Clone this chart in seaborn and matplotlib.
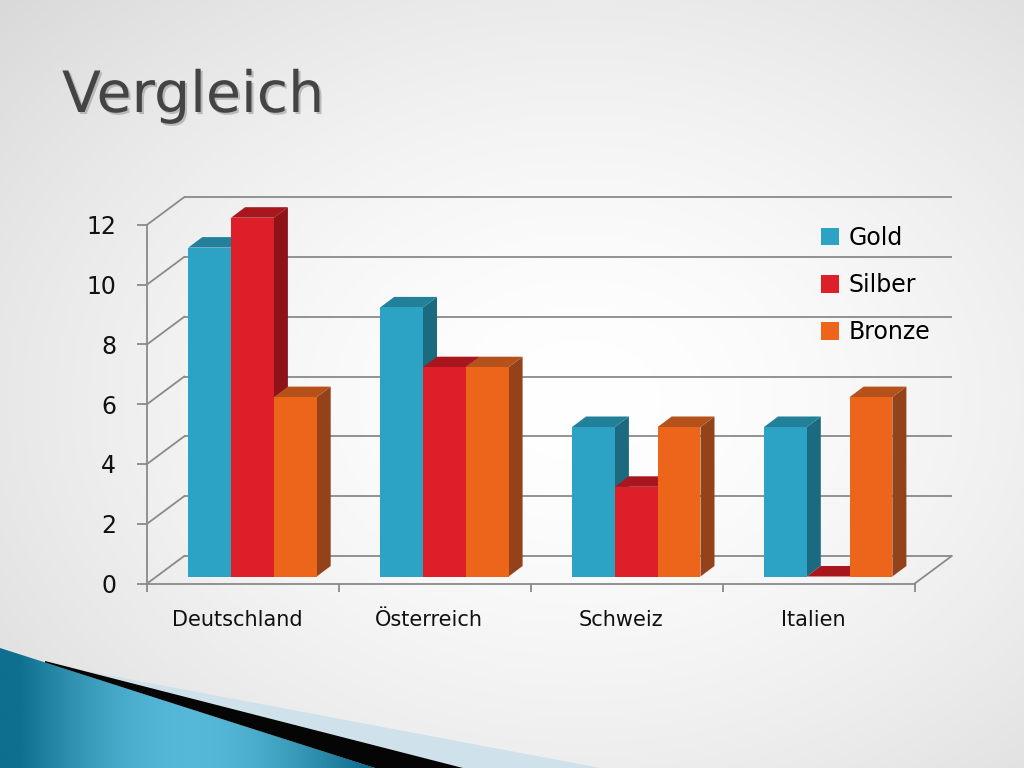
import numpy as np
import pandas as pd
import matplotlib
matplotlib.use("Agg")
import matplotlib.pyplot as plt
import matplotlib.patheffects as pe
from matplotlib.patches import Polygon, Patch
from matplotlib.colors import to_rgba
import seaborn as sns

# ---------------- data ----------------
countries = ["Deutschland", "Österreich", "Schweiz", "Italien"]
medals = ["Gold", "Silber", "Bronze"]
gold = [11, 9, 5, 5]
silber = [12, 7, 3, 0]
bronze = [6, 7, 5, 6]
y_ticks = [0, 2, 4, 6, 8, 10, 12]
title = "Vergleich"

front_colors = ["#2ca3c4", "#dd1f29", "#ec651b"]
top_colors = ["#23809a", "#a8171e", "#b5521b"]
side_colors = ["#1c6a80", "#8d1319", "#94421a"]

df = pd.DataFrame({
    "Land": countries * 3,
    "Medaille": [medals[0]] * 4 + [medals[1]] * 4 + [medals[2]] * 4,
    "Anzahl": gold + silber + bronze,
})

# ---------------- figure ----------------
fig = plt.figure(figsize=(10.24, 7.68), dpi=100)

# background gradient + decoration
bg = fig.add_axes([0, 0, 1, 1], zorder=-5)
bg.set_xlim(0, 1024)
bg.set_ylim(768, 0)
bg.axis("off")
yy, xx = np.mgrid[0:768, 0:1024]
d = np.sqrt(((xx - 580) / 720.0) ** 2 + ((yy - 400) / 540.0) ** 2)
v = 1.0 - 0.13 * np.clip(d, 0, 1.3) ** 1.6
img = np.dstack([v, v, v])
bg.imshow(img, extent=(0, 1024, 768, 0), aspect="auto", zorder=0)

teal = Polygon([(0, 648), (375, 768), (0, 768)], closed=True, facecolor="none", edgecolor="none")
bg.add_patch(teal)
t = np.linspace(0, 1, 400)
grad = np.outer(np.ones(120), t)
tg = np.abs(np.sin(np.pi * np.clip((grad - 0.05) * 1.1, 0, 1)))
cmap_teal = matplotlib.colors.LinearSegmentedColormap.from_list("t", ["#0f6f8f", "#56b8d8"])
im = bg.imshow(tg, extent=(0, 380, 768, 645), aspect="auto", cmap=cmap_teal, zorder=2)
im.set_clip_path(teal)
bg.add_patch(Polygon([(70, 668), (600, 768), (463, 768), (55, 663)], closed=True,
                     facecolor="#cfe1eb", edgecolor="none", zorder=1.5))
bg.add_patch(Polygon([(45, 661), (463, 768), (375, 768), (45, 662.5)], closed=True,
                     facecolor="#050505", edgecolor="none", zorder=3))

fig.text(62 / 1024, (768 - 112) / 768, title, fontsize=41, color="#444444",
         family="DejaVu Sans", va="baseline", ha="left",
         path_effects=[pe.SimplePatchShadow(offset=(1.5, -1.5), shadow_rgbFace="#9a9a9a", alpha=0.6),
                       pe.Normal()])

# main axes: 1 x-unit = 191.9 px, 1 y-unit = 29.9 px, bar centre of cat 0 at px 252.5, y=0 at px 576.5
ax = fig.add_axes([100 / 1024, (768 - 650) / 768, 900 / 1024, 500 / 768])
ax.set_facecolor("none")

sns.barplot(data=df, x="Land", y="Anzahl", hue="Medaille", order=countries, hue_order=medals,
            palette=front_colors, width=0.669, saturation=1, errorbar=None, ax=ax, legend=False,
            linewidth=0)

ax.set_xlim((100 - 252.5) / 191.9, (1000 - 252.5) / 191.9)
ax.set_ylim((576.5 - 650) / 29.9, (576.5 - 150) / 29.9)

# depth offsets (data units)
fdx, fdy = -9.4 / 191.9, -7.0 / 29.9      # front plane
bdx, bdy = 27.6 / 191.9, 20.5 / 29.9      # back wall
ddx, ddy = 14.0 / 191.9, 10.5 / 29.9      # bar depth

grid_c = "#8a8a8a"
lw = 1.3
xl, xr = -0.5, len(countries) - 0.5

# back wall gridlines and left wall diagonals
for yv in y_ticks:
    ax.plot([xl + bdx, xr + bdx], [yv + bdy, yv + bdy], color=grid_c, lw=lw, zorder=1,
            clip_on=False, solid_capstyle="butt")
    ax.plot([xl + fdx, xl + bdx], [yv + fdy, yv + bdy], color=grid_c, lw=lw, zorder=1,
            clip_on=False)
# floor right edge
ax.plot([xr + fdx, xr + bdx], [fdy, bdy], color=grid_c, lw=lw, zorder=1, clip_on=False)

# 3D faces for bars
bars = [p for p in ax.patches]
bars_sorted = sorted(bars, key=lambda p: p.get_x())
for rank, p in enumerate(bars_sorted):
    fc = p.get_facecolor()
    k = int(np.argmin([np.abs(np.array(fc) - np.array(to_rgba(c))).sum() for c in front_colors]))
    x0, w, h = p.get_x(), p.get_width(), p.get_height()
    base = 3 + 0.01 * rank
    side = Polygon([(x0 + w, 0), (x0 + w + ddx, ddy), (x0 + w + ddx, h + ddy), (x0 + w, h)],
                   closed=True, facecolor=side_colors[k], edgecolor="none", zorder=base)
    top = Polygon([(x0, h), (x0 + ddx, h + ddy), (x0 + w + ddx, h + ddy), (x0 + w, h)],
                  closed=True, facecolor=top_colors[k], edgecolor="none", zorder=base + 0.001)
    ax.add_patch(side)
    ax.add_patch(top)
    p.set_zorder(base + 0.002)
    p.set_linewidth(0)

# spines (front frame)
for s in ["top", "right"]:
    ax.spines[s].set_visible(False)
ax.spines["left"].set_position(("data", xl + fdx))
ax.spines["bottom"].set_position(("data", fdy))
ax.spines["left"].set_bounds(fdy, max(y_ticks) + fdy)
ax.spines["bottom"].set_bounds(xl + fdx, xr + fdx)
for s in ["left", "bottom"]:
    ax.spines[s].set_color(grid_c)
    ax.spines[s].set_linewidth(lw)

ax.set_yticks([yv + fdy for yv in y_ticks])
ax.set_yticklabels([str(yv) for yv in y_ticks])
ax.tick_params(axis="y", direction="out", length=7.2, width=lw, color=grid_c, pad=15,
               labelsize=17, labelcolor="#111111")

ax.set_xticks([xl + fdx + i for i in range(len(countries) + 1)])
ax.set_xticklabels([""] * (len(countries) + 1))
ax.set_xticks([i + fdx - 0.03 for i in range(len(countries))], minor=True)
ax.set_xticklabels(countries, minor=True)
ax.tick_params(axis="x", which="major", direction="out", length=6, width=lw, color=grid_c)
ax.tick_params(axis="x", which="minor", length=0, pad=19, labelsize=15, labelcolor="#111111")
ax.set_xlabel("")
ax.set_ylabel("")
for lab in ax.get_xticklabels(minor=True) + ax.get_yticklabels():
    lab.set_family("DejaVu Sans")

handles = [Patch(facecolor=c, edgecolor="none", label=m) for c, m in zip(front_colors, medals)]
ax.legend(handles=handles, loc="upper left", bbox_to_anchor=(821 / 1024, (768 - 226) / 768),
          bbox_transform=fig.transFigure, frameon=False, fontsize=17, handlelength=0.75,
          handleheight=0.75, handletextpad=0.4, labelspacing=0.98, borderpad=0, borderaxespad=0)

fig.savefig("out.png", dpi=100)
